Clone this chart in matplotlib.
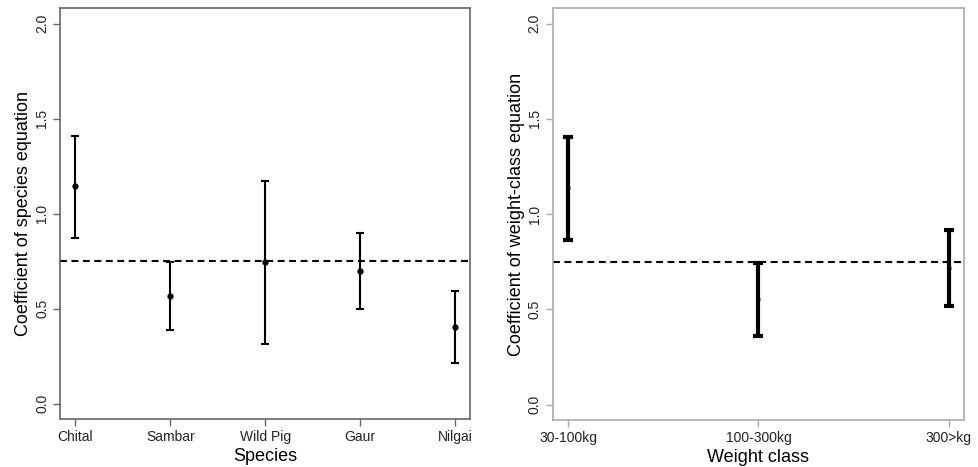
import numpy as np
import matplotlib
matplotlib.use("Agg")
import matplotlib.pyplot as plt

plt.rcParams['font.family'] = ['Liberation Sans', 'DejaVu Sans']

# Species panel
species = ["Chital", "Sambar", "Wild Pig", "Gaur", "Nilgai"]
sp_coef = [1.143, 0.566, 0.745, 0.699, 0.405]
sp_low = [0.873, 0.386, 0.312, 0.500, 0.214]
sp_high = [1.411, 0.747, 1.171, 0.896, 0.594]

# Weight class panel
wclass = ["30-100kg", "100-300kg", "300>kg"]
wc_coef = [1.135, 0.554, 0.720]
wc_low = [0.866, 0.362, 0.519]
wc_high = [1.406, 0.742, 0.919]

ref_line = 0.75

fig = plt.figure(figsize=(9.79, 4.67), dpi=100)
ax1 = fig.add_axes([0.0616, 0.103, 0.4185, 0.879])
ax2 = fig.add_axes([0.5646, 0.1006, 0.4201, 0.8814])


def panel(ax, labels, coef, low, high, lw, cap, frame, xlab, ylab):
    x = np.arange(1, len(labels) + 1)
    coef = np.array(coef)
    yerr = [coef - np.array(low), np.array(high) - coef]
    ax.errorbar(x, coef, yerr=yerr, fmt="o", color="black", ms=3.5 if lw < 2 else 2,
                elinewidth=lw, capsize=cap, capthick=lw, zorder=3)
    ax.axhline(ref_line, color="black", ls=(0, (3.3, 2.2)), lw=1.5, zorder=2)
    n = len(labels)
    pad = (n - 1) * 0.04
    ax.set_xlim(1 - pad, n + pad)
    ax.set_ylim(-0.08, 2.08)
    ax.set_xticks(x)
    ax.set_xticklabels(labels, fontsize=10, color="#222222")
    ax.set_yticks([0, 0.5, 1.0, 1.5, 2.0])
    ax.set_yticklabels(["0.0", "0.5", "1.0", "1.5", "2.0"], fontsize=10,
                       rotation=90, va="center", color="#222222")
    ax.tick_params(length=5, width=1, color=frame, pad=3)
    for s in ax.spines.values():
        s.set_color(frame)
        s.set_linewidth(1.2)
    ax.set_xlabel(xlab, fontsize=13, labelpad=3)
    ax.set_ylabel(ylab, fontsize=13, labelpad=2)


panel(ax1, species, sp_coef, sp_low, sp_high, 1.5, 3, "#666666",
      "Species", "Coefficient of species equation")
panel(ax2, wclass, wc_coef, wc_low, wc_high, 3, 3.5, "#aaaaaa",
      "Weight class", "Coefficient of weight-class equation")

fig.savefig("out.png", dpi=100)
